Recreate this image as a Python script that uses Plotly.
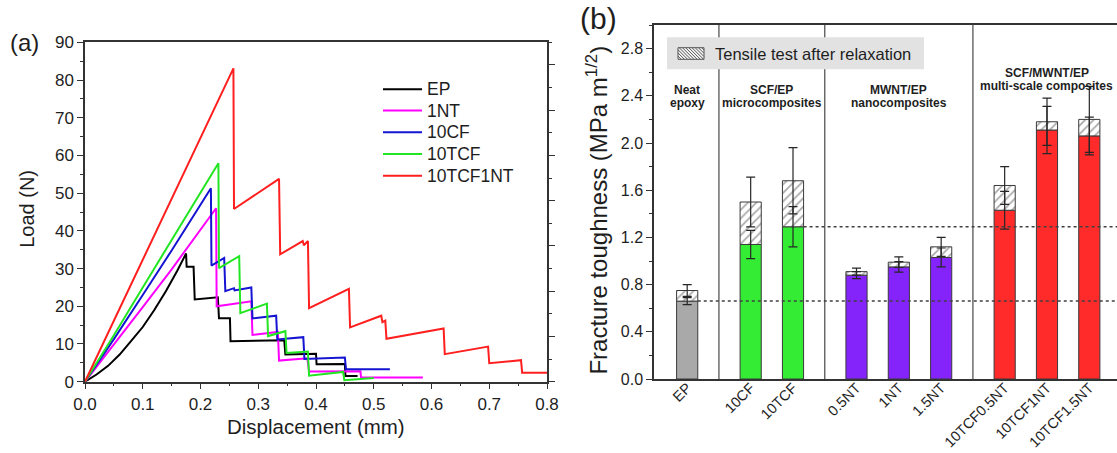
import plotly.graph_objects as go

W, H = 1117, 453
FONT = "Liberation Sans, Arial, Helvetica, sans-serif"
INK = "#1e1e1e"
AXIS = "#333333"

# ---------------- panel (a): load-displacement curves ----------------
series_names = ["EP", "1NT", "10CF", "10TCF", "10TCF1NT"]
series_colors = ["#000000", "#ff00ff", "#1414d2", "#22e622", "#ff1f1f"]

disp_ep = [0, 0.02, 0.04, 0.06, 0.08, 0.10, 0.12, 0.14, 0.16, 0.175, 0.176, 0.188,
           0.190, 0.230, 0.232, 0.251, 0.252, 0.345, 0.347, 0.400, 0.401, 0.450, 0.451, 0.472]
load_ep = [0, 1.9, 4.2, 7.2, 10.8, 14.5, 19.0, 24.0, 29.5, 34.0, 30.5, 30.5,
           21.8, 22.4, 16.8, 16.8, 10.7, 11.0, 7.2, 7.4, 4.6, 4.7, 1.5, 1.5]

disp_1nt = [0, 0.05, 0.10, 0.15, 0.20, 0.227, 0.228, 0.288, 0.290, 0.334, 0.336,
            0.385, 0.388, 0.477, 0.478, 0.585]
load_1nt = [0, 9.8, 19.8, 29.8, 40.2, 46.0, 20.0, 21.3, 12.4, 13.2, 5.6,
            6.2, 2.7, 2.8, 1.1, 1.1]

disp_10cf = [0, 0.05, 0.10, 0.15, 0.218, 0.219, 0.241, 0.243, 0.258, 0.259, 0.288,
             0.290, 0.331, 0.333, 0.378, 0.380, 0.450, 0.452, 0.528]
load_10cf = [0, 11.3, 23.0, 34.8, 51.3, 30.8, 32.8, 24.0, 24.8, 24.2, 25.0,
             16.8, 17.5, 11.2, 11.8, 6.0, 6.4, 3.3, 3.3]

disp_10tcf = [0, 0.05, 0.10, 0.15, 0.231, 0.232, 0.267, 0.269, 0.315, 0.317, 0.347,
              0.349, 0.386, 0.388, 0.447, 0.449, 0.500]
load_10tcf = [0, 12.3, 25.0, 37.5, 57.9, 30.1, 33.3, 18.2, 20.7, 12.1, 13.4,
              7.6, 8.0, 1.6, 2.6, 0.4, 1.0]

disp_10tcf1nt = [0, 0.05, 0.10, 0.15, 0.20, 0.257, 0.258, 0.336, 0.338, 0.377, 0.379,
                 0.386, 0.388, 0.457, 0.459, 0.513, 0.515, 0.520, 0.522, 0.621, 0.623,
                 0.698, 0.700, 0.755, 0.757, 0.800]
load_10tcf1nt = [0, 16.2, 32.4, 48.5, 64.7, 83.1, 45.8, 53.8, 33.8, 37.3, 36.2,
                 37.3, 19.5, 24.6, 14.4, 17.5, 15.8, 16.2, 11.4, 14.1, 7.3,
                 9.3, 4.9, 5.7, 2.4, 2.4]

curves_x = [disp_ep, disp_1nt, disp_10cf, disp_10tcf, disp_10tcf1nt]
curves_y = [load_ep, load_1nt, load_10cf, load_10tcf, load_10tcf1nt]

# ---------------- panel (b): fracture toughness bars ----------------
samples = ["EP", "10CF", "10TCF", "0.5NT", "1NT", "1.5NT",
           "10TCF0.5NT", "10TCF1NT", "10TCF1.5NT"]
sample_pos = [1, 2.5, 3.5, 5, 6, 7, 8.5, 9.5, 10.5]
kic = [0.66, 1.14, 1.29, 0.88, 0.95, 1.03, 1.43, 2.11, 2.06]
kic_err = [0.03, 0.12, 0.17, 0.03, 0.045, 0.08, 0.16, 0.20, 0.16]
kic_relax = [0.75, 1.50, 1.68, 0.91, 0.99, 1.12, 1.64, 2.18, 2.20]
kic_relax_err = [0.05, 0.21, 0.28, 0.03, 0.045, 0.08, 0.16, 0.20, 0.28]
bar_colors = ["#a9a9a9", "#35ec35", "#35ec35", "#8424fa", "#8424fa", "#8424fa",
              "#ff2a2a", "#ff2a2a", "#ff2a2a"]
group_bounds = [1.75, 4.25, 7.75]
group_titles = [("Neat", "epoxy", 1.0, 2.446, 2.339),
                ("SCF/EP", "microcomposites", 3.0, 2.446, 2.339),
                ("MWNT/EP", "nanocomposites", 6.0, 2.452, 2.341),
                ("SCF/MWNT/EP", "multi-scale composites", 9.5, 2.594, 2.486)]

BAR_W = 0.5
B_XRANGE = [0.216, 11.154]
B_YRANGE = [0, 3.0]

# plot-area boxes in pixels
A_L, A_R, A_T, A_B = 85, 547, 42.3, 381.7
B_L, B_R, B_T, B_B = 654, 1117, 25, 379

fig = go.Figure()

for name, color, xs, ys in zip(series_names, series_colors, curves_x, curves_y):
    fig.add_trace(go.Scatter(x=xs, y=ys, mode="lines", name=name,
                             line=dict(color=color, width=2),
                             xaxis="x", yaxis="y", showlegend=False))

# placeholder so the right-hand axis of panel (a) is drawn
fig.add_trace(go.Scatter(x=[None], y=[None], xaxis="x", yaxis="y3",
                         showlegend=False, hoverinfo="skip"))

fig.add_trace(go.Bar(x=sample_pos, y=kic, width=BAR_W,
                     marker=dict(color=bar_colors, line=dict(color="#3a3a3a", width=1)),
                     xaxis="x2", yaxis="y2", showlegend=False))
fig.add_trace(go.Bar(x=sample_pos, y=[r - k for r, k in zip(kic_relax, kic)], base=kic,
                     width=BAR_W,
                     marker=dict(color="white", line=dict(color="#3a3a3a", width=1),
                                 pattern=dict(shape="/", fgcolor="#555555",
                                              bgcolor="white", size=6, solidity=0.3)),
                     xaxis="x2", yaxis="y2", showlegend=False))
for vals, errs in ((kic, kic_err), (kic_relax, kic_relax_err)):
    fig.add_trace(go.Scatter(x=sample_pos, y=vals, mode="markers",
                             marker=dict(size=1, color="rgba(0,0,0,0)"),
                             error_y=dict(type="data", array=errs, color="#262626",
                                          thickness=1.2, width=4.5),
                             xaxis="x2", yaxis="y2", showlegend=False, hoverinfo="skip"))

axis_common = dict(showgrid=False, zeroline=False, showline=True, linecolor=AXIS,
                   linewidth=1.5, ticks="outside", ticklen=6, tickwidth=1.3,
                   tickcolor=AXIS, automargin=False)

fig.update_layout(
    width=W, height=H, autosize=False,
    margin=dict(l=0, r=0, t=0, b=0, pad=0),
    paper_bgcolor="white", plot_bgcolor="white",
    font=dict(family=FONT, color=INK),
    barmode="overlay",
    xaxis=dict(domain=[A_L / W, A_R / W], range=[0, 0.8], dtick=0.1, tickformat=".1f",
               anchor="y", mirror=True,
               minor=dict(dtick=0.05, ticks="outside", ticklen=3, tickcolor=AXIS),
               tickfont=dict(size=17, color=INK), **axis_common),
    yaxis=dict(domain=[1 - A_B / H, 1 - A_T / H], range=[0, 90], dtick=10, anchor="x",
               minor=dict(dtick=5, ticks="outside", ticklen=3, tickcolor=AXIS),
               tickfont=dict(size=17, color=INK), **axis_common),
    yaxis3=dict(overlaying="y", side="right", anchor="x", range=[0, 15], dtick=2,
                showticklabels=False,
                minor=dict(dtick=1, ticks="outside", ticklen=3, tickcolor=AXIS),
                **axis_common),
    xaxis2=dict(domain=[B_L / W, B_R / W], range=B_XRANGE, anchor="y2",
                tickvals=sample_pos, ticktext=samples, tickangle=-45,
                showgrid=False, zeroline=False, showline=True, linecolor=AXIS,
                linewidth=1.5, mirror=True, ticks="", automargin=False,
                ticklabelstandoff=-7,
                tickfont=dict(size=14.5, color=INK)),
    yaxis2=dict(domain=[1 - B_B / H, 1 - B_T / H], range=B_YRANGE, dtick=0.4,
                tickformat=".1f", anchor="x2",
                minor=dict(dtick=0.2, ticks="outside", ticklen=3, tickcolor=AXIS),
                tickfont=dict(size=16, color=INK), **axis_common),
)

shapes = []
ann = []

# panel (a) legend
leg_rows = [89.3, 110.6, 132.3, 154.0, 175.7]
for name, color, ypx in zip(series_names, series_colors, leg_rows):
    yd = (A_B - ypx) / (A_B - A_T)
    shapes.append(dict(type="line", xref="x domain", yref="y domain",
                       x0=(383 - A_L) / (A_R - A_L), x1=(422 - A_L) / (A_R - A_L),
                       y0=yd, y1=yd, line=dict(color=color, width=2)))
    ann.append(dict(text=name, xref="x domain", yref="y domain",
                    x=(425 - A_L) / (A_R - A_L), y=yd, xanchor="left", yanchor="middle",
                    showarrow=False, font=dict(size=17.5, color=INK)))

# panel (b) group separators and reference levels
for xb in group_bounds:
    shapes.append(dict(type="line", xref="x2", yref="y2 domain", x0=xb, x1=xb, y0=0, y1=1,
                       line=dict(color="#555555", width=1.3), layer="below"))
for idx in (0, 2):
    shapes.append(dict(type="line", xref="x2", yref="y2",
                       x0=sample_pos[idx] + BAR_W / 2, x1=B_XRANGE[1],
                       y0=kic[idx], y1=kic[idx],
                       line=dict(color="#404040", width=1.5, dash="dot"), layer="above"))

# panel (b) legend box with hatched key
def bx(px):
    return (px - B_L) / (B_R - B_L)

def by(py):
    return (B_B - py) / (B_B - B_T)

shapes.append(dict(type="rect", xref="x2 domain", yref="y2 domain",
                   x0=bx(667), x1=bx(924), y0=by(69.3), y1=by(37.3),
                   fillcolor="#e2e2e2", line=dict(width=0), layer="above"))
kx0, kx1, ky0, ky1 = 678, 704, 47.7, 59.3
shapes.append(dict(type="rect", xref="x2 domain", yref="y2 domain",
                   x0=bx(kx0), x1=bx(kx1), y0=by(ky1), y1=by(ky0),
                   fillcolor="#f4f4f4", line=dict(color="#555555", width=1), layer="above"))
kh = ky1 - ky0
c = kx0 - kh
while c < kx1:
    sx, sy = c, ky0
    ex, ey = c + kh, ky1
    if sx < kx0:
        sy += kx0 - sx
        sx = kx0
    if ex > kx1:
        ey -= ex - kx1
        ex = kx1
    if ex > sx:
        shapes.append(dict(type="line", xref="x2 domain", yref="y2 domain",
                           x0=bx(sx), x1=bx(ex), y0=by(sy), y1=by(ey),
                           line=dict(color="#555555", width=1), layer="above"))
    c += 3.2
ann.append(dict(text="Tensile test after relaxation", xref="x2 domain", yref="y2 domain",
                x=bx(713), y=by(54.3), xanchor="left", yanchor="middle", showarrow=False,
                font=dict(size=16.5, color=INK)))

for l1, l2, xc, y1, y2 in group_titles:
    for txt, yy in ((l1, y1), (l2, y2)):
        ann.append(dict(text=f"<b>{txt}</b>", xref="x2", yref="y2", x=xc, y=yy,
                        xanchor="center", yanchor="middle", showarrow=False,
                        font=dict(size=12, family=FONT, color=INK)))

# panel letters and axis titles
ann += [
    dict(text="(a)", xref="paper", yref="paper", x=24 / W, y=1 - 42 / H,
         xanchor="center", yanchor="middle", showarrow=False, font=dict(size=24, color=INK)),
    dict(text="(b)", xref="paper", yref="paper", x=598 / W, y=1 - 19 / H,
         xanchor="center", yanchor="middle", showarrow=False, font=dict(size=30, color=INK)),
    dict(text="Load (N)", xref="paper", yref="paper", x=26.8 / W, y=1 - 209 / H,
         textangle=-90, xanchor="center", yanchor="middle", showarrow=False,
         font=dict(size=20, color=INK)),
    dict(text="Displacement (mm)", xref="paper", yref="paper", x=316 / W, y=1 - 426.7 / H,
         xanchor="center", yanchor="middle", showarrow=False, font=dict(size=20.5, color=INK)),
    dict(text="Fracture toughness (MPa m<sup>1/2</sup>)", xref="paper", yref="paper",
         x=596.6 / W, y=1 - 210 / H, textangle=-90, xanchor="center", yanchor="middle",
         showarrow=False, font=dict(size=24, color=INK)),
]

fig.update_layout(shapes=shapes, annotations=ann)
fig.write_html("out.html")
